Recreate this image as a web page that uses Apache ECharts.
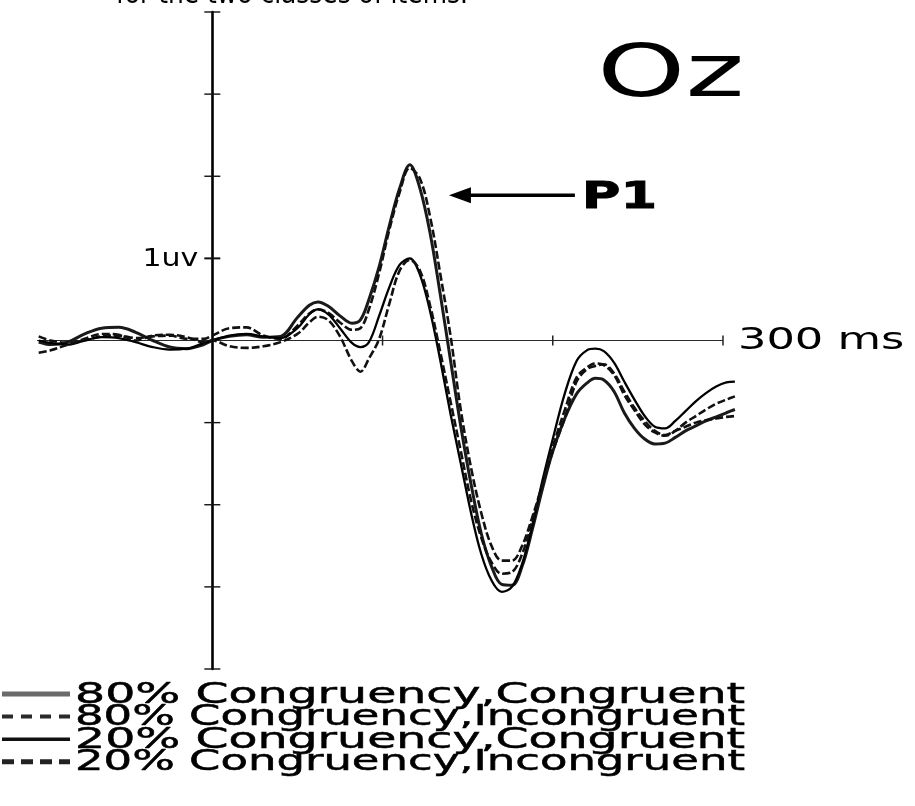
<!DOCTYPE html>
<html>
<head>
<meta charset="utf-8">
<script src="https://cdn.jsdelivr.net/npm/echarts@6/dist/echarts.min.js"></script>
<style>
  html, body { margin: 0; padding: 0; background: #ffffff; }
  #chart { width: 915px; height: 806px; }
</style>
</head>
<body>
<div id="chart"></div>
<script>
// Grand-average ERP at electrode Oz, time in ms, amplitude in microvolts (positive up)
const timesMs = [-102, -95, -85, -75, -65, -55, -45, -35, -25, -15,
                 -5, 0, 10, 20, 30, 40, 50, 57, 62, 68,
                 75, 82, 87, 92, 98, 104, 110, 116, 122, 128,
                 134, 140, 146, 152, 158, 164, 170, 176, 182, 188,
                 194, 200, 207, 214, 220, 225, 230, 236, 242, 248,
                 254, 260, 266, 272, 278, 284, 290, 296, 302, 307];

const cong80 = [-0.02, -0.05, -0.02, 0.08, 0.15, 0.16, 0.10, 0.00, -0.08, -0.10,
                -0.05, 0.00, 0.05, 0.07, 0.04, 0.05, 0.28, 0.43, 0.47, 0.42,
                0.30, 0.21, 0.25, 0.50, 0.90, 1.40, 1.85, 2.14, 1.85, 1.30,
                0.55, -0.25, -1.05, -1.75, -2.35, -2.75, -2.97, -2.98, -2.75, -2.30,
                -1.80, -1.35, -0.95, -0.65, -0.52, -0.46, -0.48, -0.62, -0.88, -1.07,
                -1.20, -1.26, -1.25, -1.18, -1.10, -1.04, -0.98, -0.93, -0.88, -0.84];

const incong80 = [0.05, 0.00, -0.03, 0.00, 0.05, 0.06, 0.03, 0.05, 0.06, 0.02,
                  0.02, 0.06, 0.15, 0.16, 0.06, 0.02, 0.18, 0.33, 0.38, 0.34,
                  0.22, 0.13, 0.15, 0.38, 0.82, 1.35, 1.80, 2.10, 1.97, 1.50,
                  0.80, 0.05, -0.85, -1.55, -2.10, -2.50, -2.68, -2.68, -2.50, -2.15,
                  -1.75, -1.35, -0.95, -0.50, -0.35, -0.31, -0.29, -0.40, -0.62, -0.82,
                  -0.98, -1.10, -1.15, -1.10, -1.05, -1.00, -0.97, -0.95, -0.93, -0.92];

const cong20 = [0.00, -0.03, -0.05, 0.00, 0.04, 0.03, -0.02, -0.08, -0.11, -0.10,
                -0.03, 0.00, 0.06, 0.08, 0.05, 0.03, 0.15, 0.32, 0.38, 0.32,
                0.15, -0.03, -0.08, -0.02, 0.30, 0.65, 0.92, 1.00, 0.80, 0.35,
                -0.25, -0.90, -1.50, -2.10, -2.60, -2.92, -3.06, -3.00, -2.72, -2.25,
                -1.70, -1.20, -0.65, -0.25, -0.12, -0.10, -0.13, -0.27, -0.50, -0.72,
                -0.92, -1.05, -1.07, -0.98, -0.86, -0.74, -0.64, -0.56, -0.51, -0.50];

const incong20 = [-0.15, -0.12, -0.05, 0.02, 0.08, 0.07, 0.00, 0.06, 0.07, 0.04,
                  -0.02, 0.00, -0.07, -0.09, -0.07, -0.02, 0.08, 0.22, 0.29, 0.25,
                  0.05, -0.25, -0.38, -0.22, 0.02, 0.45, 0.85, 0.98, 0.85, 0.42,
                  -0.15, -0.75, -1.35, -1.95, -2.40, -2.70, -2.84, -2.82, -2.60, -2.20,
                  -1.75, -1.30, -0.85, -0.45, -0.33, -0.28, -0.30, -0.42, -0.66, -0.85,
                  -1.02, -1.12, -1.16, -1.10, -1.00, -0.92, -0.84, -0.77, -0.72, -0.68];

const seriesNames = ['80% Congruency,Congruent', '80% Congruency,Incongruent',
                     '20% Congruency,Congruent', '20% Congruency,Incongruent'];
const seriesValues = [cong80, incong80, cong20, incong20];

const xTickValues = [100, 200, 300];          // ms
const yTickValues = [-4, -3, -2, -1, 1, 2, 3, 4]; // uV
const electrodeLabel = 'Oz';
const peakLabel = 'P1';
const unitLabel = '1uv';
const timeLabel = '300 ms';
const captionText = 'for the two classes of items.';

// Plot line look and the matching legend swatch
const lineLooks = [
  { color: '#1a1a1a', width: 3.0, dash: 'solid', swatch: '#6a6a6a', swatchWidth: 5, swatchDash: null },
  { color: '#111111', width: 2.6, dash: [8, 3], swatch: '#2a2a2a', swatchWidth: 4, swatchDash: [11, 8] },
  { color: '#000000', width: 2.3, dash: 'solid', swatch: '#111111', swatchWidth: 3.5, swatchDash: null },
  { color: '#111111', width: 2.6, dash: [8, 3], swatch: '#222222', swatchWidth: 5, swatchDash: [12, 7] }
];

const FONT = '"DejaVu Sans", "Liberation Sans", sans-serif';

const chart = echarts.init(document.getElementById('chart'), null, { renderer: 'canvas' });

// -103..308 ms across the grid; the drawn time axis stops at 300 ms
const xMin = -103, xMax = 308, yMin = -4, yMax = 4;

chart.setOption({
  animation: false,
  backgroundColor: '#ffffff',
  grid: { left: 37, right: 178.4, top: 12, bottom: 137, containLabel: false },
  xAxis: {
    type: 'value', min: xMin, max: xMax,
    axisLine: { show: false }, axisTick: { show: false },
    axisLabel: { show: false }, splitLine: { show: false }
  },
  yAxis: {
    type: 'value', min: yMin, max: yMax, interval: 1,
    axisLine: { show: true, onZero: true, lineStyle: { color: '#000', width: 2.6 } },
    axisTick: { show: false }, axisLabel: { show: false }, splitLine: { show: false }
  },
  series: seriesValues.map((vals, i) => ({
    name: seriesNames[i],
    type: 'line',
    data: timesMs.map((t, k) => [t, vals[k]]),
    showSymbol: false,
    smooth: 0.35,
    clip: false,
    silent: true,
    lineStyle: { color: lineLooks[i].color, width: lineLooks[i].width, type: lineLooks[i].dash },
    z: 3 + i
  }))
});

function px(t, v) { return chart.convertToPixel({ gridIndex: 0 }, [t, v]); }

const measureCtx = document.createElement('canvas').getContext('2d');
function textWidth(text, size, weight) {
  measureCtx.font = (weight || 'normal') + ' ' + size + 'px ' + FONT;
  return measureCtx.measureText(text).width;
}

function label(text, x, y, size, sx, align, weight, heavy) {
  const style = {
    text: text, fill: '#000',
    font: (weight || 'normal') + ' ' + size + 'px ' + FONT,
    textAlign: align || 'left', textVerticalAlign: 'middle'
  };
  if (heavy) { style.stroke = '#000'; style.lineWidth = heavy; }
  return { type: 'text', x: x, y: y, scaleX: sx, silent: true, z: 20, style: style };
}

const g = [];

// time axis line and crossing ticks
const axStart = px(xMin, 0), axEnd = px(300, 0);
g.push({ type: 'line', silent: true, z: 2,
  shape: { x1: axStart[0], y1: axStart[1], x2: axEnd[0], y2: axEnd[1] },
  style: { stroke: '#2a2a2a', lineWidth: 1.2 } });
xTickValues.forEach(t => {
  const p = px(t, 0);
  g.push({ type: 'line', silent: true, z: 2,
    shape: { x1: p[0], y1: p[1] - 5, x2: p[0], y2: p[1] + 5 },
    style: { stroke: '#222', lineWidth: 1.5 } });
});
yTickValues.forEach(v => {
  const p = px(0, v);
  g.push({ type: 'line', silent: true, z: 2,
    shape: { x1: p[0] - 8, y1: p[1], x2: p[0] + 8, y2: p[1] },
    style: { stroke: '#111', lineWidth: v === 1 ? 2 : 1.4 } });
});

// caption clipped at the page top
g.push(label(captionText, 116, -5, 29, 0.86, 'left'));

// electrode name
g.push(label(electrodeLabel, 597, 77, 73, 1.54, 'left'));

// unit and time scale labels
const oneUv = px(0, 1);
g.push(label(unitLabel, oneUv[0] - 14, oneUv[1] + 1, 25, 1.2, 'right'));
g.push(label(timeLabel, axEnd[0] + 15, axEnd[1] + 1, 30, 1.49, 'left'));

// P1 arrow
const arrowTip = px(139, 1.77);
const arrowTail = px(213, 1.77);
g.push({ type: 'line', silent: true, z: 20,
  shape: { x1: arrowTail[0], y1: arrowTail[1], x2: arrowTip[0] + 14, y2: arrowTip[1] },
  style: { stroke: '#000', lineWidth: 3.5 } });
g.push({ type: 'polygon', silent: true, z: 20,
  shape: { points: [[arrowTip[0], arrowTip[1]], [arrowTip[0] + 22, arrowTip[1] - 8], [arrowTip[0] + 22, arrowTip[1] + 8]] },
  style: { fill: '#000' } });
const p1Pos = px(217, 1.76);
g.push(label(peakLabel, p1Pos[0], p1Pos[1] + 2, 38, 1.39, 'left', 'bold', 0.8));

// legend: swatch plus a line of text stretched to a common right edge
const legendTop = 694, legendStep = 22.6, legendTextLeft = 75, legendTextRight = 745, legendSize = 29;
seriesNames.forEach((name, i) => {
  const y = legendTop + i * legendStep;
  const look = lineLooks[i];
  g.push({ type: 'line', silent: true, z: 20,
    shape: { x1: 2, y1: y, x2: 70, y2: y },
    style: { stroke: look.swatch, lineWidth: look.swatchWidth, lineDash: look.swatchDash || null } });
  const sx = (legendTextRight - legendTextLeft) / textWidth(name, legendSize);
  g.push(label(name, legendTextLeft, y + 1, legendSize, sx, 'left', 'normal', 0.5));
});

chart.setOption({ graphic: g });
</script>
</body>
</html>
